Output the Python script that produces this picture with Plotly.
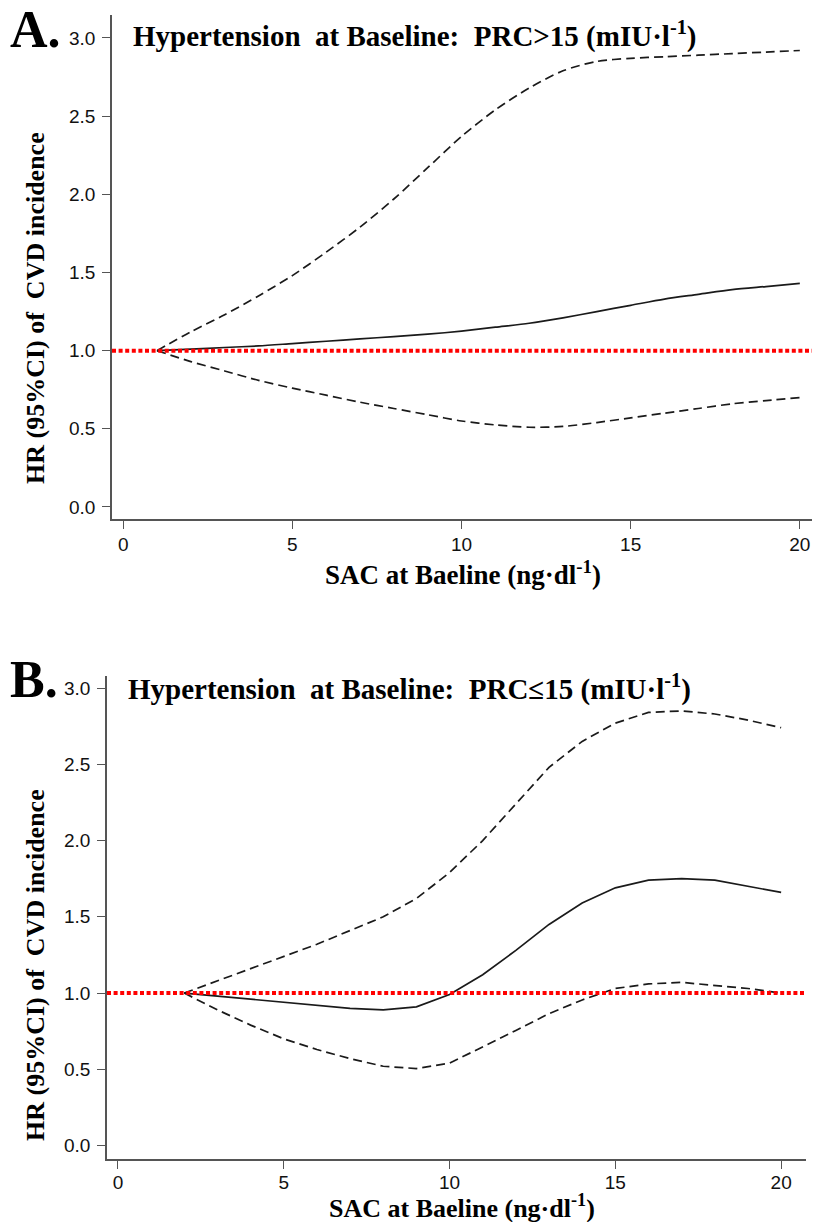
import plotly.graph_objects as go

W, H = 814, 1222

# ---------------- data ----------------
sac_a = [1, 2, 3, 4, 5, 6, 7, 8, 9, 10, 11, 12, 13, 14, 15, 16, 17, 18, 19, 20]
hr_a = [1.0, 1.01, 1.02, 1.03, 1.045, 1.06, 1.075, 1.09, 1.105, 1.125,
        1.15, 1.175, 1.21, 1.25, 1.29, 1.33, 1.36, 1.39, 1.41, 1.43]
upper_a = [1.0, 1.12, 1.23, 1.35, 1.48, 1.63, 1.79, 1.97, 2.17, 2.37,
           2.54, 2.68, 2.79, 2.85, 2.87, 2.88, 2.89, 2.90, 2.91, 2.92]
lower_a = [1.0, 0.93, 0.87, 0.81, 0.76, 0.715, 0.67, 0.63, 0.59, 0.55,
           0.525, 0.51, 0.515, 0.54, 0.57, 0.60, 0.63, 0.66, 0.68, 0.70]

sac_b = [2, 3, 4, 5, 6, 7, 8, 9, 10, 11, 12, 13, 14, 15, 16, 17, 18, 19, 20]
hr_b = [1.0, 0.98, 0.96, 0.94, 0.92, 0.90, 0.89, 0.91, 0.99, 1.12,
        1.28, 1.45, 1.59, 1.69, 1.74, 1.75, 1.74, 1.70, 1.66]
upper_b = [1.0, 1.08, 1.16, 1.24, 1.32, 1.41, 1.50, 1.62, 1.79, 2.00,
           2.24, 2.48, 2.65, 2.77, 2.84, 2.85, 2.83, 2.79, 2.74]
lower_b = [1.0, 0.89, 0.79, 0.70, 0.63, 0.57, 0.52, 0.505, 0.54, 0.645,
           0.755, 0.865, 0.955, 1.03, 1.06, 1.07, 1.05, 1.03, 1.0]

x_ticks = [0, 5, 10, 15, 20]
y_ticks = [0.0, 0.5, 1.0, 1.5, 2.0, 2.5, 3.0]
y_ticklabels = ["0.0", "0.5", "1.0", "1.5", "2.0", "2.5", "3.0"]
reference_hr = 1.0

title_a = "Hypertension  at Baseline:  PRC>15 (mIU·l<sup>-1</sup>)"
title_b = "Hypertension  at Baseline:  PRC≤15 (mIU·l<sup>-1</sup>)"
x_title = "SAC at Baeline (ng·dl<sup>-1</sup>)"
y_title = "HR (95%CI) of  CVD incidence"

SERIF = "Liberation Serif, Times New Roman, serif"
SANS = "Liberation Sans, Arial, sans-serif"


def px(x):
    return x / W


def py(y):
    return 1 - y / H


fig = go.Figure()

panels = [
    (sac_a, hr_a, upper_a, lower_a, "x", "y", "spline"),
    (sac_b, hr_b, upper_b, lower_b, "x2", "y2", "linear"),
]
for xs, mid, up, lo, xa, ya, shape in panels:
    for ys, dash in ((up, "9px,5px"), (lo, "9px,5px"), (mid, "solid")):
        fig.add_trace(go.Scatter(
            x=xs, y=ys, mode="lines", xaxis=xa, yaxis=ya,
            line=dict(color="#1a1a1a", width=1.7, dash=dash, shape=shape,
                      smoothing=0.8 if shape == "spline" else None),
            showlegend=False, hoverinfo="skip"))

axis_common = dict(
    showline=True, linecolor="#555555", linewidth=1.6, mirror=False,
    showgrid=False, zeroline=False, ticks="outside", ticklen=8,
    tickwidth=1.4, tickcolor="#555555",
    tickfont=dict(family=SANS, size=19, color="#111111"),
)

fig.update_layout(
    width=W, height=H,
    margin=dict(l=0, r=0, t=0, b=0),
    paper_bgcolor="white", plot_bgcolor="white",
    showlegend=False,
    xaxis=dict(domain=[px(112), px(812)], range=[-0.33, 20.36], anchor="y",
               tickvals=x_ticks, ticklabelstandoff=-1, **axis_common),
    yaxis=dict(domain=[py(519), py(15)], range=[-0.077, 3.147], anchor="x",
               tickvals=y_ticks, ticktext=y_ticklabels, ticklabelstandoff=3,
               **axis_common),
    xaxis2=dict(domain=[px(107), px(806)], range=[-0.33, 20.75], anchor="y2",
                tickvals=x_ticks, ticklabelstandoff=-3, **axis_common),
    yaxis2=dict(domain=[py(1159), py(676)], range=[-0.088, 3.079], anchor="x2",
                tickvals=y_ticks, ticktext=y_ticklabels, ticklabelstandoff=3,
                **axis_common),
)

# red dotted reference lines
for xr, yr in (("x domain", "y"), ("x2 domain", "y2")):
    fig.add_shape(type="line", xref=xr, yref=yr, x0=0, x1=1,
                  y0=reference_hr, y1=reference_hr, layer="above",
                  line=dict(color="#ff0000", width=4, dash="4px,2.6px"))

ann = []
# panel letters
ann.append(dict(text="<b>A.</b>", x=px(8), y=py(29), xanchor="left", yanchor="middle",
                font=dict(family=SERIF, size=52, color="black")))
ann.append(dict(text="<b>B.</b>", x=px(8), y=py(679), xanchor="left", yanchor="middle",
                font=dict(family=SERIF, size=52, color="black")))
# titles
ann.append(dict(text="<b>" + title_a + "</b>", x=px(131), y=py(34), xanchor="left",
                yanchor="middle", font=dict(family=SERIF, size=29, color="black")))
ann.append(dict(text="<b>" + title_b + "</b>", x=px(126), y=py(687), xanchor="left",
                yanchor="middle", font=dict(family=SERIF, size=29, color="black")))
# x axis titles
ann.append(dict(text="<b>" + x_title + "</b>", x=px(463), y=py(573), xanchor="center",
                yanchor="middle", font=dict(family=SERIF, size=27, color="black")))
ann.append(dict(text="<b>" + x_title + "</b>", x=px(462), y=py(1206), xanchor="center",
                yanchor="middle", font=dict(family=SERIF, size=26, color="black")))
# y axis titles
ann.append(dict(text="<b>" + y_title + "</b>", x=px(35), y=py(308), xanchor="center",
                yanchor="middle", textangle=-90, font=dict(family=SERIF, size=26, color="black")))
ann.append(dict(text="<b>" + y_title + "</b>", x=px(35), y=py(965), xanchor="center",
                yanchor="middle", textangle=-90, font=dict(family=SERIF, size=26, color="black")))

for a in ann:
    a.update(xref="paper", yref="paper", showarrow=False)
fig.update_layout(annotations=ann)

# remove the browser's default 8px page margin so the figure fills the window exactly
fig.write_html("out.html", config={"displayModeBar": False},
               post_script="document.body.style.margin='0';document.body.style.overflow='hidden';")
